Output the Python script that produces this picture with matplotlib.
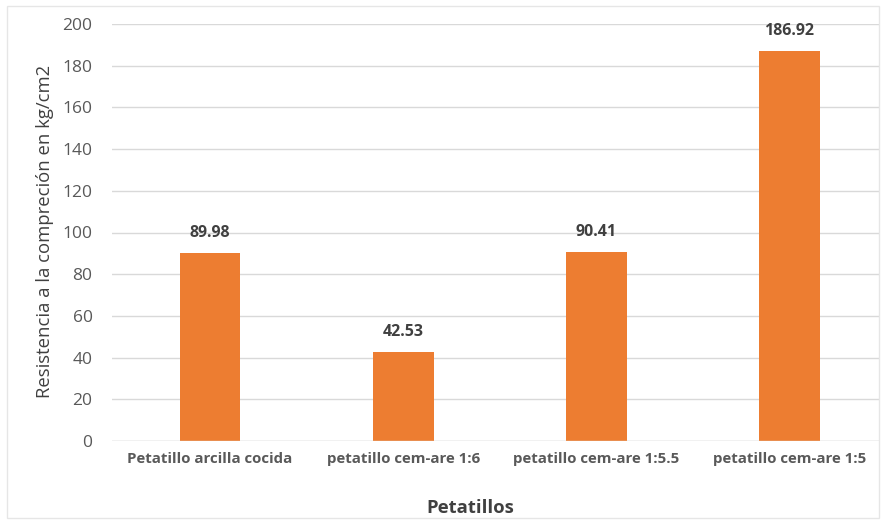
import matplotlib
matplotlib.use("Agg")
import matplotlib.pyplot as plt
from matplotlib.patches import Rectangle

categories = ["Petatillo arcilla cocida", "petatillo cem-are 1:6",
              "petatillo cem-are 1:5.5", "petatillo cem-are 1:5"]
values = [89.98, 42.53, 90.41, 186.92]
yticks = [0, 20, 40, 60, 80, 100, 120, 140, 160, 180, 200]

plt.rcParams['font.family'] = ['Open Sans', 'DejaVu Sans']
gray = '#595959'

fig = plt.figure(figsize=(8.83, 5.20), dpi=100)
ax = fig.add_axes([112/883, 1-441/520, (880-112)/883, (441-24)/520])

x = list(range(len(categories)))
ax.bar(x, values, width=0.315, color='#ED7D31', zorder=3)
for xi, v in zip(x, values):
    ax.text(xi, v + 6, f"{v:.2f}", ha='center', va='bottom',
            fontsize=11.5, fontweight='bold', color='#404040')

ax.set_xlim(-0.508, 3.47)
ax.set_ylim(0, 200)
ax.set_yticks(yticks)
ax.set_yticklabels([str(t) for t in yticks], fontsize=12.5, color=gray)
ax.set_xticks(x)
ax.set_xticklabels(categories, fontsize=10.8, fontweight='bold', color=gray)
ax.tick_params(axis='both', length=0)
ax.tick_params(axis='y', pad=14)
ax.tick_params(axis='x', pad=8)
ax.grid(axis='y', color='#D9D9D9', linewidth=1, zorder=0)
for s in ax.spines.values():
    s.set_visible(False)
ax.axhline(0, color='#D9D9D9', linewidth=1, zorder=4)

fig.text(45/883, 1-231/520, "Resistencia a la compreción en kg/cm2", rotation=90,
         ha='center', va='center', fontsize=13.3, color='#404040')
fig.text(470/883, 1-508/520, "Petatillos", ha='center', va='center',
         fontsize=13.3, fontweight='bold', color='#404040')

fig.patches.append(Rectangle((7/883, 2/520), 872/883, 512/520, transform=fig.transFigure,
                             fill=False, edgecolor='#E6E6E6', linewidth=1))

fig.savefig("out.png", dpi=100)
